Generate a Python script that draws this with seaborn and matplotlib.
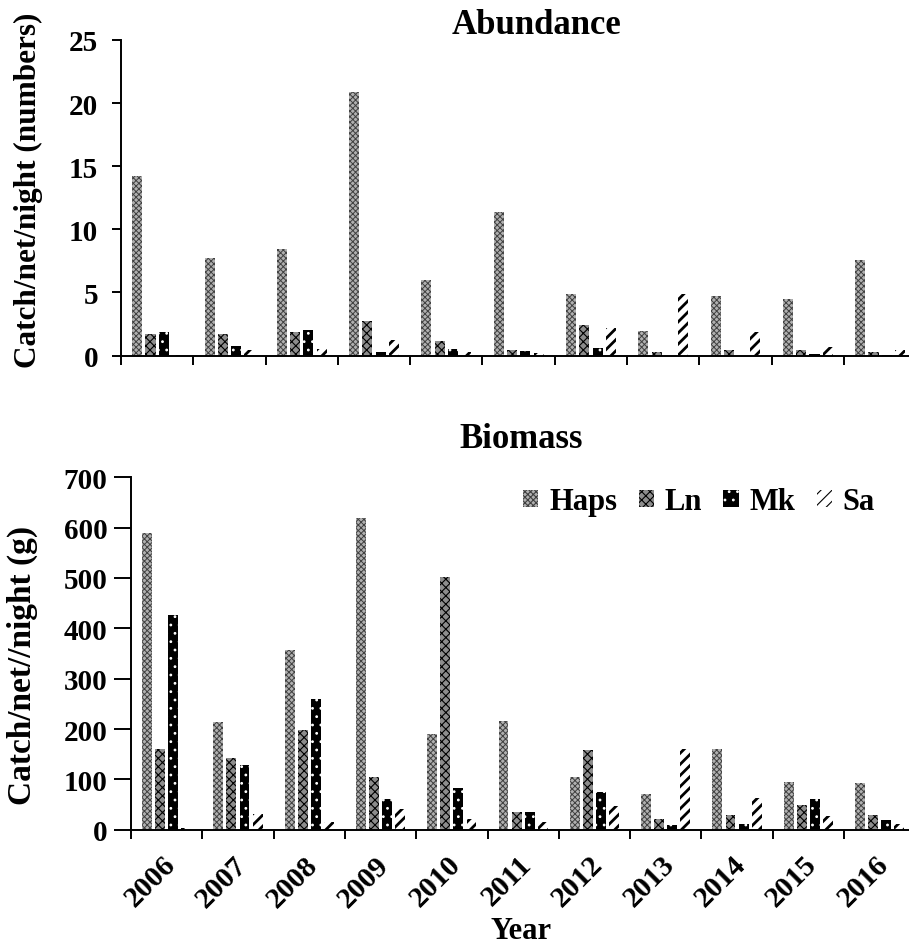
import numpy as np
import pandas as pd
import matplotlib
matplotlib.use("Agg")
import matplotlib.pyplot as plt
import matplotlib.transforms as mtransforms
import seaborn as sns

# ---- data -------------------------------------------------------------
years = ["2006", "2007", "2008", "2009", "2010", "2011",
         "2012", "2013", "2014", "2015", "2016"]
species = ["Haps", "Ln", "Mk", "Sa"]

# catch/net/night (numbers)
abund_haps = [14.2, 7.7, 8.4, 20.9, 6.0, 11.4, 4.9, 1.96, 4.7, 4.5, 7.6]
abund_ln = [1.67, 1.72, 1.88, 2.75, 1.14, 0.45, 2.43, 0.27, 0.45, 0.45, 0.27]
abund_mk = [1.86, 0.79, 2.0, 0.29, 0.48, 0.35, 0.61, 0.0, 0.0, 0.15, 0.07]
abund_sa = [0.05, 0.4, 0.53, 1.25, 0.27, 0.2, 2.2, 4.9, 1.9, 0.69, 0.45]

# catch/net/night (g)
bio_haps = [589, 214, 356, 619, 190, 215, 105, 70, 161, 94, 93]
bio_ln = [161, 142, 199, 105, 501, 35, 159, 22, 30, 50, 30]
bio_mk = [427, 128, 259, 60, 83, 36, 74, 9, 12, 61, 20]
bio_sa = [4, 32, 16, 41, 22, 15, 48, 161, 62, 28, 11]


def long_table(series):
    rows = []
    for sp, vals in zip(species, series):
        for yr, v in zip(years, vals):
            rows.append({"Year": yr, "Species": sp, "Value": v})
    return pd.DataFrame(rows)


abund_df = long_table([abund_haps, abund_ln, abund_mk, abund_sa])
bio_df = long_table([bio_haps, bio_ln, bio_mk, bio_sa])

# ---- style ------------------------------------------------------------
sns.set_theme(style="ticks")
plt.rcParams["font.family"] = ["Liberation Serif", "DejaVu Serif"]
plt.rcParams["font.weight"] = "bold"
plt.rcParams["axes.labelweight"] = "bold"
plt.rcParams["hatch.linewidth"] = 0.8
for key in ("text.color", "axes.labelcolor", "xtick.color", "ytick.color",
            "axes.edgecolor"):
    plt.rcParams[key] = "black"

# face colour, hatch pattern, hatch colour, hatch line width
fills = {
    "Haps": ("#b0b0b0", "xxxxxx", "#404040", 0.7),
    "Ln": ("#8c8c8c", "xxxx", "#000000", 0.8),
    "Mk": ("#000000", "..", "#ffffff", 0.8),
    "Sa": ("#ffffff", "///", "#000000", 2.0),
}
palette = {k: v[0] for k, v in fills.items()}

W, H = 909, 945
fig = plt.figure(figsize=(W / 100, H / 100), dpi=100)


def px_axes(left, top, bottom):
    return fig.add_axes([left / W, 1 - bottom / H, (W - left) / W, (bottom - top) / H])


ax_top = px_axes(121, 41, 356.5)
ax_bot = px_axes(131, 478.3, 830.7)


def draw(ax, df):
    sns.barplot(data=df, x="Year", y="Value", hue="Species", order=years,
                hue_order=species, palette=palette, width=0.735, gap=0.245,
                saturation=1, legend=False, ax=ax)
    for sp, cont in zip(species, ax.containers):
        face, hatch, hcol, hlw = fills[sp]
        for bar in cont:
            bar.set_facecolor(face)
            bar.set_hatch(hatch)
            bar.set_edgecolor(hcol)
            bar.set_linewidth(0)
            if hasattr(bar, "set_hatch_linewidth"):
                bar.set_hatch_linewidth(hlw)
    for s in ("top", "right"):
        ax.spines[s].set_visible(False)
    for s in ("left", "bottom"):
        ax.spines[s].set_linewidth(1.4)
        ax.spines[s].set_color("black")
    ax.set_xlabel("")
    # ticks between year groups
    ax.set_xticks(np.arange(-0.5, 11.0, 1.0))
    ax.set_xticklabels([])
    ax.tick_params(axis="x", which="major", direction="out", length=6.5,
                   width=1.4, color="black")
    ax.tick_params(axis="y", labelsize=21, width=1.4, color="black",
                   labelcolor="black")
    for t in ax.get_yticklabels():
        t.set_fontweight("bold")
    ax.grid(False)


draw(ax_top, abund_df)
ax_top.set_xlim(-0.5, -0.5 + (W - 121) / 72.3)
ax_top.set_ylim(0, 25)
ax_top.set_yticks(np.arange(0, 26, 5))
ax_top.tick_params(axis="y", length=6.5, pad=10)
ax_top.set_ylabel("Catch/net/night (numbers)", fontsize=22.5, fontweight="bold")
ax_top.yaxis.set_label_coords((43 - 121) / (W - 121), 0.528)

draw(ax_bot, bio_df)
ax_bot.set_xlim(-0.5, -0.5 + (W - 131) / 71.3)
ax_bot.set_ylim(0, 700)
ax_bot.set_yticks(np.arange(0, 701, 100))
ax_bot.tick_params(axis="y", length=12, pad=5)
ax_bot.set_ylabel("Catch/net//night (g)", fontsize=24, fontweight="bold")
ax_bot.yaxis.set_label_coords((38 - 131) / (W - 131), 0.47)

# year labels centred on each group
ax_bot.set_xticks(np.arange(len(years)), minor=True)
ax_bot.set_xticklabels(years, minor=True, rotation=45, ha="right",
                       rotation_mode="anchor", fontsize=21.5, fontweight="bold")
ax_bot.tick_params(axis="x", which="minor", length=0, pad=15)
shift = mtransforms.ScaledTranslation(-5 / 100, 0, fig.dpi_scale_trans)
for lab in ax_bot.get_xticklabels(minor=True):
    lab.set_transform(lab.get_transform() + shift)
ax_bot.set_xlabel("Year", fontsize=22, fontweight="bold")
ax_bot.xaxis.set_label_coords((521 - 131) / (W - 131), -(917 - 830.7) / 352.4)

# panel titles
fig.text(537 / W, 1 - 25 / H, "Abundance", ha="center", va="center",
         fontsize=25, fontweight="bold")
fig.text(521 / W, 1 - 440 / H, "Biomass", ha="center", va="center",
         fontsize=25, fontweight="bold")

# legend
handles = [cont.patches[0] for cont in ax_bot.containers]
leg = ax_bot.legend(handles, species, loc="center", ncol=4, frameon=False,
                    bbox_to_anchor=(699 / W, 1 - 503 / H),
                    bbox_transform=fig.transFigure,
                    prop={"size": 22, "weight": "bold"},
                    handlelength=0.5, handleheight=0.5, handletextpad=0.35,
                    columnspacing=0.7, borderpad=0, borderaxespad=0)

fig.savefig("out.png", dpi=100)
